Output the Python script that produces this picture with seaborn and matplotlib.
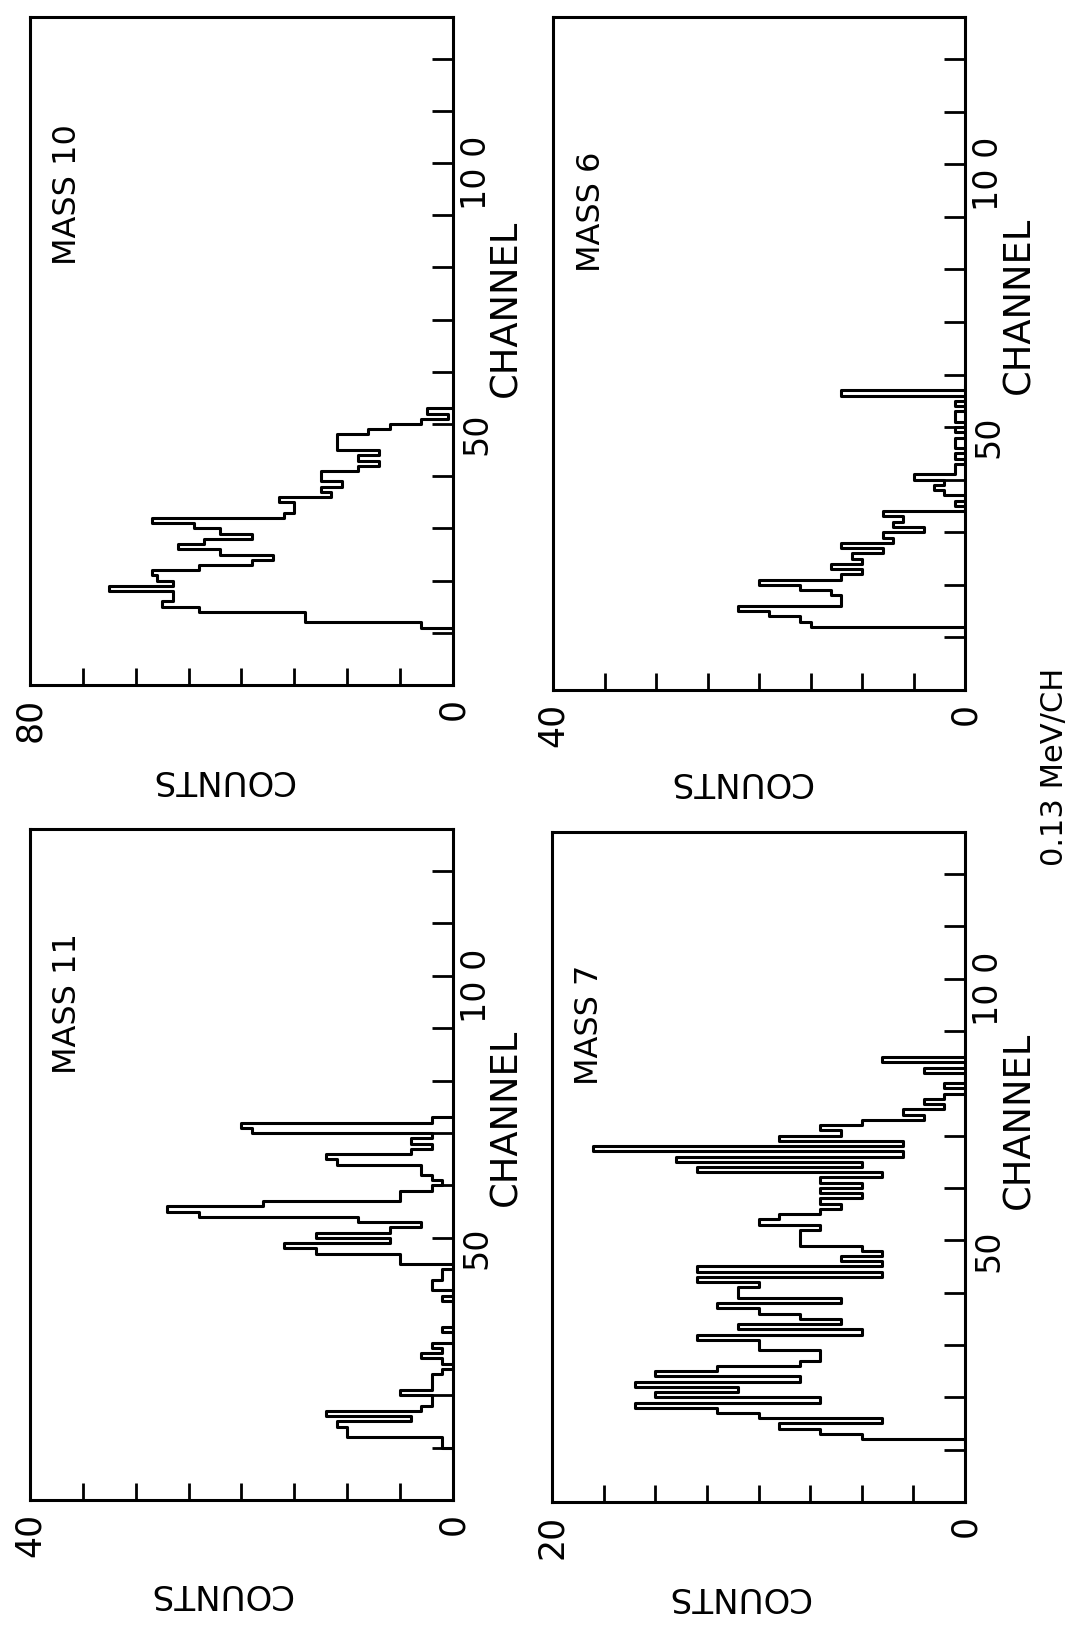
import numpy as np
import matplotlib
matplotlib.use("Agg")
import matplotlib.pyplot as plt
from matplotlib import transforms
import seaborn as sns
import pandas as pd

# ---------------- data (counts per channel) ----------------
mass10_start = 10
mass10_counts = [0, 6, 28, 28, 48, 55, 53, 53, 65, 53, 56, 57, 48, 38, 34, 44, 52, 47,
                 38, 44, 49, 57, 32, 30, 30, 33, 23, 25, 21, 25, 25, 18, 14, 18, 14, 22,
                 22, 22, 16, 12, 6, 1, 5, 0]

mass6_start = 11
mass6_counts = [0, 15, 16, 19, 22, 12, 12, 13, 16, 20, 12, 10, 13, 10, 11, 8, 12, 7, 8,
                4, 7, 6, 8, 0, 1, 0, 2, 3, 2, 5, 1, 1, 0, 1, 0, 1, 1, 0, 1, 0, 1, 1, 0,
                1, 0, 12, 0]

mass11_start = 9
mass11_counts = [0, 1, 1, 10, 10, 11, 4, 12, 3, 2, 2, 5, 2, 2, 2, 1, 0, 1, 3, 1, 2, 0,
                 0, 1, 0, 0, 0, 0, 0, 1, 0, 2, 2, 1, 1, 0, 5, 5, 13, 16, 6, 13, 6, 3, 9,
                 24, 27, 18, 5, 5, 2, 1, 2, 3, 3, 11, 12, 4, 2, 4, 2, 19, 20, 2, 0]

mass7_start = 11
mass7_counts = [0, 5, 7, 9, 4, 10, 12, 16, 7, 15, 11, 16, 8, 15, 12, 8, 7, 7, 10, 10,
                13, 5, 11, 6, 8, 10, 12, 6, 11, 11, 10, 13, 4, 13, 4, 6, 4, 5, 8, 8, 8,
                7, 10, 9, 7, 6, 7, 5, 7, 5, 7, 4, 13, 5, 14, 3, 18, 3, 9, 6, 7, 5, 2, 3,
                1, 2, 1, 0, 1, 0, 0, 2, 0, 4, 0]

mass_titles = ["MASS 10", "MASS 6", "MASS 11", "MASS 7"]
count_max = [80, 40, 40, 20]
channel_max = 128
channel_ticks = list(range(10, 130, 10))
channel_labels = {50: "50", 100: "10 0"}
energy_note = "0.13 MeV/CH"

# ---------------- layout ----------------
W, H = 1073, 1626
sns.set_style("white")
plt.rcParams["font.family"] = ["DejaVu Sans"]

fig = plt.figure(figsize=(W / 100, H / 100), dpi=100)


def rect(x0, y0, x1, y1):
    return [x0 / W, 1 - y1 / H, (x1 - x0) / W, (y1 - y0) / H]


def fpos(px, py):
    return px / W, 1 - py / H


panels = [
    dict(start=mass10_start, counts=mass10_counts, rect=rect(30, 17, 453, 685),
         counts_lbl=(222, 780), chan_lbl=(506, 308), title=(68, 195)),
    dict(start=mass6_start, counts=mass6_counts, rect=rect(553, 17, 965, 690),
         counts_lbl=(740, 782), chan_lbl=(1019, 305), title=(591, 212)),
    dict(start=mass11_start, counts=mass11_counts, rect=rect(30, 829, 453, 1500),
         counts_lbl=(221, 1593), chan_lbl=(506, 1117), title=(68, 1003)),
    dict(start=mass7_start, counts=mass7_counts, rect=rect(552, 832, 965, 1502),
         counts_lbl=(739, 1596), chan_lbl=(1019, 1120), title=(590, 1025)),
]

LW = 2.2
for i, p in enumerate(panels):
    ax = fig.add_axes(p["rect"])
    cmax = count_max[i]
    vals = list(p["counts"]) + [0]
    chans = np.arange(p["start"], p["start"] + len(vals))
    df = pd.DataFrame({"counts": vals, "channel": chans})
    sns.lineplot(data=df, x="counts", y="channel", estimator=None, sort=False,
                 orient="y", drawstyle="steps-pre", color="black", lw=LW, ax=ax)
    ax.set_xlim(cmax, 0)
    ax.set_ylim(0, channel_max)
    ax.set_xlabel("")
    ax.set_ylabel("")

    # counts axis (horizontal, inverted)
    xt = np.linspace(0, cmax, 9)
    ax.set_xticks(xt)
    ax.set_xticklabels(["0" if v == 0 else (str(cmax) if v == cmax else "") for v in xt])
    ax.tick_params(axis="x", direction="in", length=12, width=2.0, pad=9,
                   labelsize=25, labelrotation=90, bottom=True, top=False,
                   color="black", labelcolor="black")

    # channel axis (vertical, ticks on right)
    ax.yaxis.set_ticks_position("right")
    ax.set_yticks(channel_ticks)
    ax.set_yticklabels([])
    ax.tick_params(axis="y", direction="in", length=15, width=2.0, right=True,
                   left=False, labelleft=False, labelright=False, color="black")

    for s in ax.spines.values():
        s.set_visible(True)
        s.set_linewidth(LW)
        s.set_color("black")

    # channel tick labels (right of the right spine)
    base = transforms.blended_transform_factory(ax.transAxes, ax.transData)
    tr = transforms.offset_copy(base, fig=fig, x=7, y=-10, units="dots")
    for v, lab in channel_labels.items():
        ax.text(1.0, v, lab, transform=tr, rotation=90, ha="left", va="center",
                fontsize=24, color="black")

    # axis titles and panel title
    fig.text(*fpos(*p["counts_lbl"]), "COUNTS", rotation=180, ha="center",
             va="center", fontsize=24.5, color="black")
    fig.text(*fpos(*p["chan_lbl"]), "CHANNEL", rotation=90, ha="center",
             va="center", fontsize=26.5, color="black")
    fig.text(*fpos(*p["title"]), mass_titles[i], rotation=90, ha="center",
             va="center", fontsize=23, color="black")

# note near the right edge (kept fully inside the figure)
fig.text(1040 / W, 1 - 767 / H, energy_note, rotation=90, ha="left", va="center",
         fontsize=22, color="black")

fig.savefig("out.png", dpi=100, facecolor="white")
